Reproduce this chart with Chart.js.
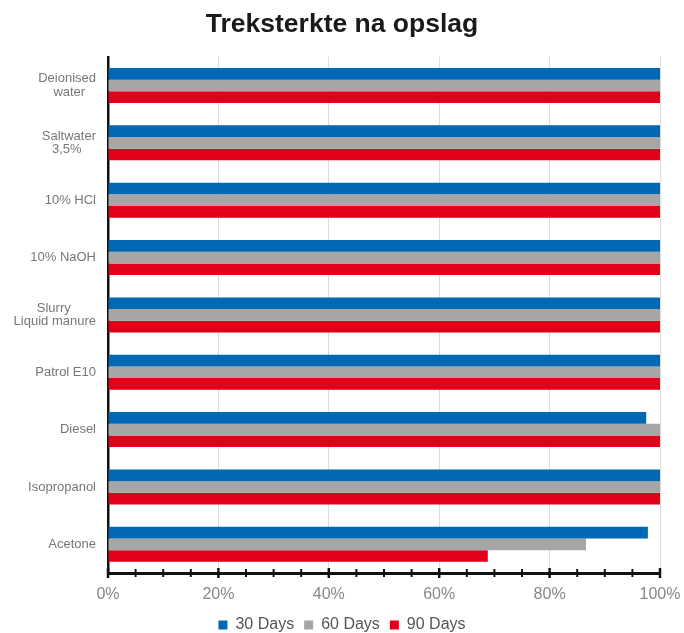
<!DOCTYPE html>
<html>
<head>
<meta charset="utf-8">
<script src="https://cdn.jsdelivr.net/npm/chart.js@4"></script>
<style>
  html, body { margin: 0; padding: 0; background: #fff; }
  #wrap { width: 684px; height: 633px; }
</style>
</head>
<body>
<div id="wrap"><canvas id="chart" width="684" height="633"></canvas></div>
<script>
// trailing no-break spaces only centre the shorter line under the longer one
const categories = [
  ['Deionised', 'water\u00a0\u00a0\u00a0'],
  ['Saltwater', '3,5%\u00a0\u00a0\u00a0\u00a0'],
  '10% HCl',
  '10% NaOH',
  ['Slurry\u00a0\u00a0\u00a0\u00a0\u00a0\u00a0\u00a0', 'Liquid manure'],
  'Patrol E10',
  'Diesel',
  'Isopropanol',
  'Acetone'
];
const days30 = [100, 100, 100, 100, 100, 100, 97.5, 100, 97.8];
const days60 = [100, 100, 100, 100, 100, 100, 100, 100, 86.6];
const days90 = [100, 100, 100, 100, 100, 100, 100, 100, 68.8];
const tickLabels = ['0%', '20%', '40%', '60%', '80%', '100%'];

const FONT = '"Liberation Sans", Arial, Helvetica, sans-serif';

// small tick marks crossing the x axis every 5%
const axisTicks = {
  id: 'axisTicks',
  afterDraw(chart) {
    const x = chart.scales.x;
    const ctx = chart.ctx;
    const y = chart.chartArea.bottom;
    ctx.save();
    ctx.strokeStyle = '#111';
    for (let v = 0; v <= 100; v += 5) {
      const px = x.getPixelForValue(v);
      const major = v % 20 === 0;
      const h = major ? 5 : 4;
      ctx.lineWidth = major ? 2.5 : 2;
      ctx.beginPath();
      ctx.moveTo(px, y - h);
      ctx.lineTo(px, y + h);
      ctx.stroke();
    }
    ctx.restore();
  }
};

new Chart(document.getElementById('chart'), {
  type: 'bar',
  data: {
    labels: categories,
    datasets: [
      { label: '30 Days', data: days30, backgroundColor: '#0068b4' },
      { label: '60 Days', data: days60, backgroundColor: '#a6a6a6' },
      { label: '90 Days', data: days90, backgroundColor: '#e1001a' }
    ]
  },
  options: {
    indexAxis: 'y',
    responsive: false,
    animation: false,
    layout: { padding: { left: 0, right: 0, top: 4, bottom: -10 } },
    datasets: { bar: { categoryPercentage: 0.61, barPercentage: 1 } },
    plugins: {
      title: {
        display: true,
        text: 'Treksterkte na opslag',
        color: '#1a1a1a',
        font: { family: FONT, size: 26.5, weight: 'bold' },
        padding: { top: 5, bottom: 16 }
      },
      legend: {
        position: 'bottom',
        labels: {
          color: '#555',
          font: { family: FONT, size: 16 },
          boxWidth: 9,
          boxHeight: 9,
          padding: 10
        }
      },
      tooltip: { enabled: false }
    },
    scales: {
      x: {
        min: 0,
        max: 100,
        afterFit(scale) {
          scale.height = 34;
          scale.paddingLeft = 0;
          scale.paddingRight = 24;
        },
        ticks: {
          stepSize: 5,
          autoSkip: false,
          maxRotation: 0,
          color: '#888',
          font: { family: FONT, size: 16 },
          padding: 12,
          callback: (v) => (v % 20 === 0 ? tickLabels[v / 20] : '')
        },
        grid: {
          color: (c) => (c.tick && c.tick.value % 20 === 0 ? '#dcdcdc' : 'rgba(0,0,0,0)'),
          drawTicks: false
        },
        border: { color: '#111', width: 3 }
      },
      y: {
        afterFit(scale) { scale.width = 108; },
        ticks: {
          color: '#777',
          font: { family: FONT, size: 13, lineHeight: 1.05 },
          padding: 12
        },
        grid: { display: false, drawTicks: false },
        border: { color: '#111', width: 2.5 }
      }
    }
  },
  plugins: [axisTicks]
});
</script>
</body>
</html>
